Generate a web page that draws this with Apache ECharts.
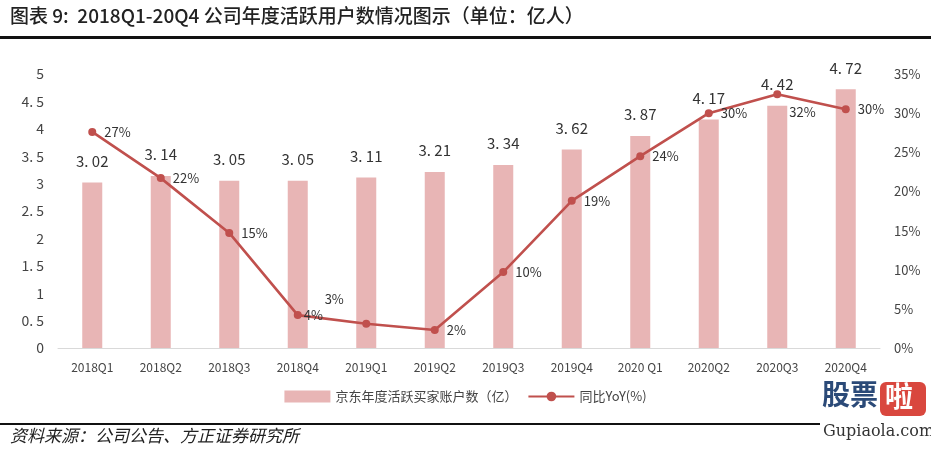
<!DOCTYPE html>
<html><head><meta charset="utf-8">
<script src="https://cdn.jsdelivr.net/npm/echarts@6/dist/echarts.min.js"></script>
<style>html,body{margin:0;padding:0;background:#fff}#c{width:931px;height:452px}</style>
</head><body><div id="c"></div>
<script>
const categories = ['2018Q1','2018Q2','2018Q3','2018Q4','2019Q1','2019Q2','2019Q3','2019Q4','2020 Q1','2020Q2','2020Q3','2020Q4'];
const activeUsers = [3.02,3.14,3.05,3.05,3.11,3.21,3.34,3.62,3.87,4.17,4.42,4.72];
const yoy = [27.6,21.7,14.7,4.2,3.1,2.3,9.7,18.8,24.5,30.0,32.4,30.5];
const yoyLabels = ['27%','22%','15%','4%','3%','2%','10%','19%','24%','30%','32%','30%'];
const leftTicks = [0,0.5,1,1.5,2,2.5,3,3.5,4,4.5,5];
const rightTicks = [0,5,10,15,20,25,30,35];

const chart = echarts.init(document.getElementById('c'));
const font = '"Noto Sans CJK SC", "Noto Sans", sans-serif';
const fmtNum = v => String(v).replace('.', '. ');
chart.setOption({
  animation:false,
  textStyle:{fontFamily:font},
  grid:{left:58,right:51,top:74,bottom:104},
  legend:{
    bottom:44,left:'center',itemWidth:46,itemHeight:12,itemGap:10,
    textStyle:{color:'#444',fontSize:13,fontFamily:font},
    data:[{name:'京东年度活跃买家账户数（亿）',icon:'rect'},{name:'同比YoY(%)'}]
  },
  xAxis:{type:'category',data:categories,
    axisLine:{lineStyle:{color:'#d9d9d9'}},axisTick:{show:false},
    axisLabel:{color:'#444',fontSize:12,margin:13}},
  yAxis:[
    {type:'value',min:0,max:5,interval:0.5,splitLine:{show:false},
     axisLine:{show:false},axisTick:{show:false},
     axisLabel:{color:'#444',fontSize:14,margin:14,formatter:v=>fmtNum(v)}},
    {type:'value',min:0,max:35,interval:5,splitLine:{show:false},
     axisLine:{show:false},axisTick:{show:false},
     axisLabel:{color:'#444',fontSize:13,margin:14,formatter:v=>v+'%'}}
  ],
  series:[
    {name:'京东年度活跃买家账户数（亿）',type:'bar',data:activeUsers,barWidth:20,
     itemStyle:{color:'#e8b5b5'},
     label:{show:true,position:'top',distance:14,color:'#333',fontSize:15,formatter:p=>fmtNum(p.value)}},
    {name:'同比YoY(%)',type:'line',yAxisIndex:1,data:yoy.map((v,i)=>{
        const d={value:v};
        if(i===4) d.label={position:'top',offset:[-32,-6]};
        if(i===3) d.label={offset:[-6,0]};
        if(i===10) d.label={offset:[0,18]};
        return d;}),
     symbol:'circle',symbolSize:8,
     lineStyle:{color:'#c0504d',width:2.6},itemStyle:{color:'#c0504d'},
     label:{show:true,position:'right',distance:8,color:'#333',fontSize:13,
       formatter:p=>yoyLabels[p.dataIndex]}}
  ],
  graphic:[
    {type:'text',left:10,top:6,style:{text:'图表 9:  2018Q1-20Q4 公司年度活跃用户数情况图示（单位：亿人）',font:'500 19px '+font,fill:'#222'}},
    {type:'rect',shape:{x:0,y:36,width:931,height:3},style:{fill:'#111'}},
    {type:'rect',shape:{x:0,y:423,width:820,height:2},style:{fill:'#111'}},
    {type:'text',left:10,top:427,style:{text:'资料来源：公司公告、方正证券研究所',font:'italic 17px '+font,fill:'#222'}},
    {type:'text',left:822,top:380,style:{text:'股票',font:'bold 28px '+font,fill:'#2b4a78'}},
    {type:'rect',shape:{x:880,y:382,width:46,height:34,r:6},style:{fill:'#d9473e'}},
    {type:'text',left:885,top:382,style:{text:'啦',font:'bold 28px '+font,fill:'#fff'}},
    {type:'text',left:823,top:424,style:{text:'Gupiaola.com',font:'16px "DejaVu Serif", serif',fill:'#333'}}
  ]
});
</script></body></html>
